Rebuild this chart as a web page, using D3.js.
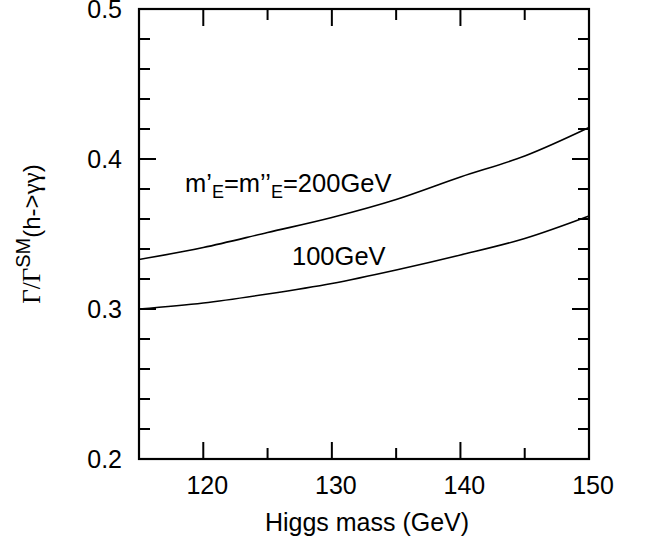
<!DOCTYPE html>
<html><head><meta charset="utf-8">
<script src="https://cdn.jsdelivr.net/npm/d3@7"></script>
<style>body{margin:0;background:#fff}svg{display:block}</style>
</head><body>
<script>
const masses = [115, 120, 125, 130, 135, 140, 145, 150];
const ratio200 = [0.333, 0.341, 0.351, 0.361, 0.373, 0.388, 0.402, 0.421];
const ratio100 = [0.300, 0.304, 0.310, 0.317, 0.326, 0.336, 0.347, 0.362];
const xMajor = [120, 130, 140, 150];
const xMinor = [125, 135, 145];
const yMajor = [0.2, 0.3, 0.4, 0.5];
const yMinor = [0.22, 0.24, 0.26, 0.28, 0.32, 0.34, 0.36, 0.38, 0.42, 0.44, 0.46, 0.48];

const W = 647, H = 545;
const L = 139, R = 589, T = 9, B = 459;
const svg = d3.select("body").append("svg").attr("width", W).attr("height", H);
const x = d3.scaleLinear().domain([115, 150]).range([L, R]);
const y = d3.scaleLinear().domain([0.2, 0.5]).range([B, T]);
const font = "'Liberation Sans', Arial, sans-serif";
const serif = "'Liberation Serif', 'Times New Roman', serif";

// curves
const line = d3.line().curve(d3.curveMonotoneX).x((d, i) => x(masses[i])).y(d => y(d));
[ratio200, ratio100].forEach(s => {
  svg.append("path").datum(s).attr("d", line).attr("fill", "none")
    .attr("stroke", "#000").attr("stroke-width", 1.6);
});

// ticks
const tk = svg.append("g").attr("stroke", "#000").attr("stroke-width", 2);
xMajor.concat(xMinor).forEach(v => {
  const len = xMajor.includes(v) ? 17 : 11;
  tk.append("line").attr("x1", x(v)).attr("x2", x(v)).attr("y1", B).attr("y2", B - len);
  tk.append("line").attr("x1", x(v)).attr("x2", x(v)).attr("y1", T).attr("y2", T + len);
});
yMajor.concat(yMinor).forEach(v => {
  const len = yMajor.includes(v) ? 17 : 11;
  tk.append("line").attr("x1", L).attr("x2", L + len).attr("y1", y(v)).attr("y2", y(v));
  tk.append("line").attr("x1", R).attr("x2", R - len).attr("y1", y(v)).attr("y2", y(v));
});

// frame
svg.append("rect").attr("x", L).attr("y", T).attr("width", R - L).attr("height", B - T)
  .attr("fill", "none").attr("stroke", "#000").attr("stroke-width", 2.2);

// tick labels
svg.append("g").selectAll("text").data(xMajor).join("text")
  .attr("x", d => x(d) + 4).attr("y", 494).attr("text-anchor", "middle")
  .attr("font-family", font).attr("font-size", 25).text(d => d);
svg.append("g").selectAll("text").data(yMajor).join("text")
  .attr("x", 122).attr("y", d => y(d) + 9).attr("text-anchor", "end")
  .attr("font-family", font).attr("font-size", 25).text(d => d.toFixed(1));

// axis titles
svg.append("text").attr("x", 367).attr("y", 531).attr("text-anchor", "middle")
  .attr("font-family", font).attr("font-size", 25).text("Higgs mass (GeV)");

const yt = svg.append("text").attr("transform", "translate(40,234) rotate(-90)")
  .attr("text-anchor", "middle").attr("font-size", 24).attr("font-family", font);
yt.append("tspan").attr("font-family", serif).attr("font-size", 25).text("Γ/Γ");
yt.append("tspan").attr("font-size", 20).attr("dy", -10).text("SM");
yt.append("tspan").attr("dy", 10).text("(h->");
yt.append("tspan").attr("font-family", serif).attr("font-size", 25).text("γγ");
yt.append("tspan").text(")");

// curve labels
const l1 = svg.append("text").attr("x", 185).attr("y", 192).attr("font-family", font).attr("font-size", 25.5);
l1.append("tspan").text("m’");
l1.append("tspan").attr("font-size", 18).attr("dy", 6).text("E");
l1.append("tspan").attr("dy", -6).text("=m’’");
l1.append("tspan").attr("font-size", 18).attr("dy", 6).text("E");
l1.append("tspan").attr("dy", -6).text("=200GeV");

svg.append("text").attr("x", 292).attr("y", 265).attr("font-family", font).attr("font-size", 25.5).text("100GeV");
</script>
</body></html>
